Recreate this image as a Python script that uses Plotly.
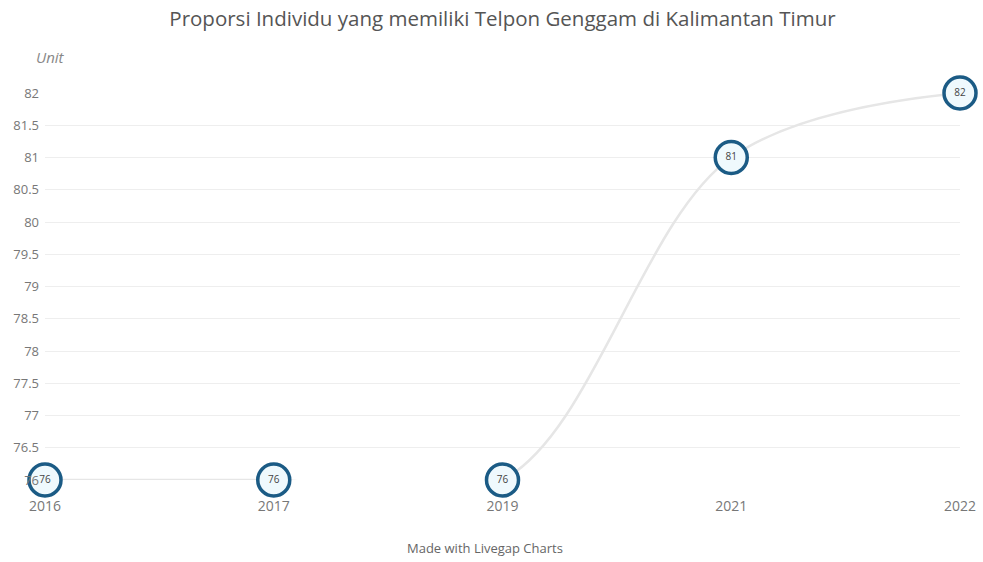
import plotly.graph_objects as go

years = ["2016", "2017", "2019", "2021", "2022"]
values = [76, 76, 76, 81, 82]
y_ticks = [76, 76.5, 77, 77.5, 78, 78.5, 79, 79.5, 80, 80.5, 81, 81.5, 82]

title_text = "Proporsi Individu yang memiliki Telpon Genggam di Kalimantan Timur"
unit_text = "Unit"
credit_text = "Made with Livegap Charts"

font_family = "Open Sans, Noto Sans, sans-serif"

fig = go.Figure()
fig.add_trace(go.Scatter(
    x=years,
    y=values,
    mode="lines+markers+text",
    text=[str(v) for v in values],
    textposition="middle center",
    textfont=dict(size=10, color="#444444", family=font_family),
    line=dict(color="#e6e6e6", width=2.5, shape="spline", smoothing=1.0),
    marker=dict(size=32, color="#eff9fd",
                line=dict(color="#1b5b85", width=3.5)),
    cliponaxis=False,
    hoverinfo="x+y",
))

fig.update_layout(
    width=983,
    height=562,
    margin=dict(l=45, r=23, t=93, b=82, autoexpand=False),
    paper_bgcolor="white",
    plot_bgcolor="white",
    showlegend=False,
    font=dict(family=font_family, color="#666666", size=13),
    title=dict(text=title_text, xref="paper", x=0.5, xanchor="center",
               y=0.966, yanchor="middle",
               font=dict(size=20.5, color="#555555", family=font_family)),
    xaxis=dict(
        type="category",
        range=[0, 4],
        automargin=False,
        showgrid=False,
        zeroline=False,
        showline=False,
        ticks="",
        tickfont=dict(size=14, color="#777777"),
        ticklabelstandoff=16,
    ),
    yaxis=dict(
        range=[76, 82],
        automargin=False,
        tickvals=y_ticks,
        ticktext=[("%g" % v) for v in y_ticks],
        showgrid=True,
        gridcolor="#eeeeee",
        gridwidth=1,
        zeroline=False,
        showline=False,
        ticks="",
        tickfont=dict(size=13, color="#777777"),
        ticklabelstandoff=5,
    ),
    annotations=[
        dict(text="<i>" + unit_text + "</i>", xref="paper", yref="paper",
             x=0.0, xshift=5, y=1.0, yshift=36, xanchor="center", yanchor="middle",
             showarrow=False, font=dict(size=15, color="#888888", family=font_family)),
        dict(text=credit_text, xref="paper", yref="paper",
             x=0.5, xshift=-18, y=0, yshift=-68, xanchor="center", yanchor="middle",
             showarrow=False, font=dict(size=13, color="#666666", family=font_family)),
    ],
)

fig.write_html("out.html")
